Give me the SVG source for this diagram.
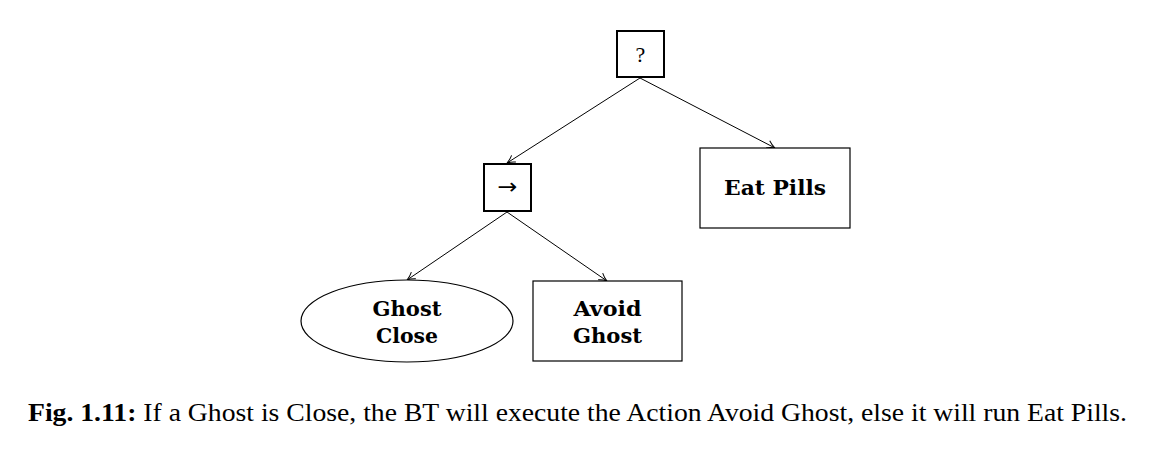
<svg xmlns="http://www.w3.org/2000/svg" width="1155" height="450" viewBox="0 0 1155 450">
<style>
.ctrl{fill:#fff;stroke:#000;stroke-width:2}
.act{fill:#fff;stroke:#000;stroke-width:1.2}
.lbl{font-family:"DejaVu Serif","Liberation Serif",serif;font-weight:bold;font-size:21px;text-anchor:middle;fill:#000}
.sym{font-family:"Liberation Serif","DejaVu Serif",serif;font-size:22px;text-anchor:middle;fill:#000}
.arw{font-family:"DejaVu Sans",sans-serif;font-size:22px;text-anchor:middle;fill:#000}
.edge{stroke:#000;stroke-width:1;fill:none;marker-end:url(#arr)}
.cap{font-family:"Liberation Serif",serif;font-size:25px;fill:#000}
</style>
<defs>
<marker id="arr" viewBox="0 0 10 10" refX="9" refY="5" markerWidth="10" markerHeight="10" markerUnits="userSpaceOnUse" orient="auto">
<path d="M1,1 Q5,4 9,5 Q5,6 1,9" fill="none" stroke="#000" stroke-width="1"/>
</marker>
</defs>
<g id="connectors">
<line class="edge" x1="640" y1="78" x2="507" y2="163"/>
<line class="edge" x1="640" y1="78" x2="775" y2="148"/>
<line class="edge" x1="507" y1="212" x2="407" y2="280"/>
<line class="edge" x1="507" y1="212" x2="607" y2="281"/>
</g>
<g id="fallback">
<rect class="ctrl" x="617" y="31" width="47" height="46"/>
<text class="sym" x="640.5" y="62">?</text>
</g>
<g id="sequence">
<rect class="ctrl" x="484" y="164" width="47" height="47"/>
<text class="arw" x="507.5" y="194" textLength="20" lengthAdjust="spacingAndGlyphs">→</text>
</g>
<g id="eat-pills">
<rect class="act" x="700" y="148" width="150" height="80"/>
<text class="lbl" x="775" y="195" textLength="102" lengthAdjust="spacingAndGlyphs">Eat Pills</text>
</g>
<g id="ghost-close">
<ellipse class="act" cx="407" cy="321" rx="106" ry="41"/>
<text class="lbl" x="407" y="316" textLength="69" lengthAdjust="spacingAndGlyphs">Ghost</text>
<text class="lbl" x="407" y="343" textLength="62" lengthAdjust="spacingAndGlyphs">Close</text>
</g>
<g id="avoid-ghost">
<rect class="act" x="533" y="281" width="149" height="80"/>
<text class="lbl" x="607.5" y="316" textLength="68" lengthAdjust="spacingAndGlyphs">Avoid</text>
<text class="lbl" x="607.5" y="343" textLength="69" lengthAdjust="spacingAndGlyphs">Ghost</text>
</g>
<text class="cap" x="28" y="421" textLength="1099" lengthAdjust="spacingAndGlyphs"><tspan font-weight="bold">Fig. 1.11:</tspan> If a Ghost is Close, the BT will execute the Action Avoid Ghost, else it will run Eat Pills.</text>
</svg>
